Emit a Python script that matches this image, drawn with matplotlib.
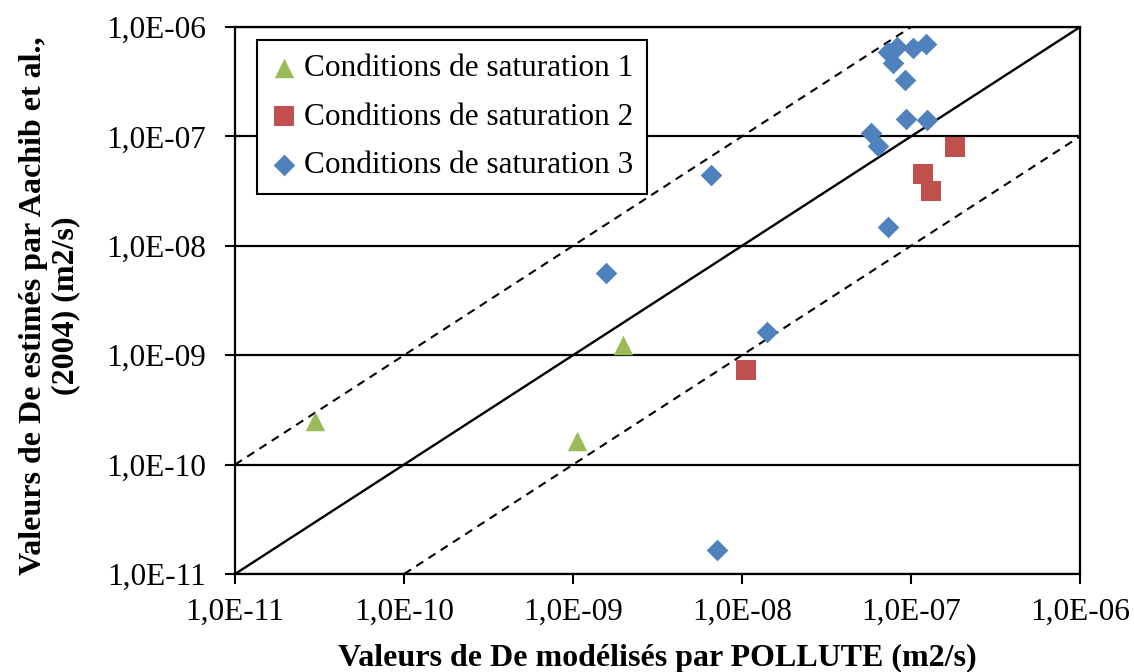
import matplotlib.pyplot as plt
from matplotlib.ticker import FixedLocator, NullLocator

# Conditions de saturation 1
x_sat1 = [2.97e-11, 1.06e-9, 1.98e-9]
y_sat1 = [2.5e-10, 1.64e-10, 1.24e-9]

# Conditions de saturation 2
x_sat2 = [1.06e-8, 1.18e-7, 1.31e-7, 1.82e-7]
y_sat2 = [7.3e-10, 4.5e-8, 3.2e-8, 8.0e-8]

# Conditions de saturation 3
x_sat3 = [7.1e-9, 1.57e-9, 6.6e-9, 1.41e-8, 7.3e-8, 8.3e-8, 7.8e-8, 1.03e-7,
          1.23e-7, 9.2e-8, 9.3e-8, 1.24e-7, 5.8e-8, 6.4e-8, 7.3e-8]
y_sat3 = [1.66e-11, 5.6e-9, 4.4e-8, 1.63e-9, 5.9e-7, 6.6e-7, 4.7e-7, 6.4e-7,
          7.0e-7, 3.3e-7, 1.44e-7, 1.41e-7, 1.07e-7, 8.2e-8, 1.49e-8]

# reference lines: 1:1 and factor 10
line_x = [1e-11, 1e-6]
line_y = [1e-11, 1e-6]
upper_x = [1e-11, 1e-7]
upper_y = [1e-10, 1e-6]
lower_x = [1e-10, 1e-6]
lower_y = [1e-11, 1e-7]

ticks = [1e-11, 1e-10, 1e-9, 1e-8, 1e-7, 1e-6]
tick_labels = ['1,0E-11', '1,0E-10', '1,0E-09', '1,0E-08', '1,0E-07', '1,0E-06']

plt.rcParams['font.family'] = ['Liberation Serif', 'DejaVu Serif']

fig = plt.figure(figsize=(11.34, 6.72), dpi=100)
ax = fig.add_axes([0.2072, 0.1458, 0.7452, 0.8140])

ax.set_xscale('log')
ax.set_yscale('log')
ax.set_xlim(1e-11, 1e-6)
ax.set_ylim(1e-11, 1e-6)

for y in ticks:
    ax.axhline(y, color='black', linewidth=1.6, zorder=1)

ax.plot(line_x, line_y, color='black', linewidth=1.7, zorder=2)
ax.plot(upper_x, upper_y, color='black', linewidth=1.5, linestyle=(0, (4, 3)), zorder=2)
ax.plot(lower_x, lower_y, color='black', linewidth=1.5, linestyle=(0, (4, 3)), zorder=2)

ax.scatter(x_sat1, y_sat1, marker='^', s=14**2, color='#9BBB59',
           label='Conditions de saturation 1', zorder=3, linewidths=0)
ax.scatter(x_sat2, y_sat2, marker='s', s=14**2, color='#C0504D',
           label='Conditions de saturation 2', zorder=3, linewidths=0)
ax.scatter(x_sat3, y_sat3, marker='D', s=11**2, color='#4F81BD',
           label='Conditions de saturation 3', zorder=3, linewidths=0)

ax.xaxis.set_major_locator(FixedLocator(ticks))
ax.yaxis.set_major_locator(FixedLocator(ticks))
ax.xaxis.set_minor_locator(NullLocator())
ax.yaxis.set_minor_locator(NullLocator())
ax.set_xticklabels(tick_labels)
ax.set_yticklabels(tick_labels)
ax.tick_params(axis='both', labelsize=22.5, length=7, width=1.5, direction='out',
               colors='black')
ax.tick_params(axis='x', pad=10)
ax.tick_params(axis='y', pad=14)

for sp in ax.spines.values():
    sp.set_linewidth(1.6)
    sp.set_color('black')

ax.set_xlabel('Valeurs de De modélisés par POLLUTE (m2/s)', fontsize=23,
              fontweight='bold')
ax.xaxis.set_label_coords(0.5, -0.128)
ax.set_ylabel('Valeurs de De estimés par Aachib et al.,\n(2004) (m2/s)',
              fontsize=23, fontweight='bold', linespacing=1.15)
ax.yaxis.set_label_coords(-0.183, 0.49)

leg = ax.legend(loc='upper left', bbox_to_anchor=(0.026, 0.976), fontsize=22.5,
                frameon=True, fancybox=False, edgecolor='black',
                handlelength=0.85, handletextpad=0.2, borderpad=0.45,
                labelspacing=0.62, borderaxespad=0)
leg.get_frame().set_linewidth(1.5)
leg.get_frame().set_alpha(1)

fig.savefig('out.png', dpi=100)
plt.close(fig)
